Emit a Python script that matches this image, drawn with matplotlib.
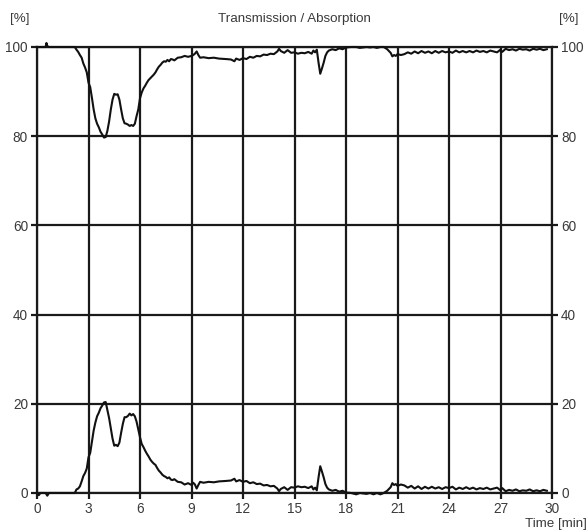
import matplotlib
matplotlib.use("Agg")
import matplotlib.pyplot as plt

plt.rcParams['font.family'] = ['Liberation Sans', 'DejaVu Sans']

time = [
    0.0, 0.1, 0.2, 0.5, 0.55, 0.6, 0.7, 2.2, 2.3, 2.4,
    2.5, 2.6, 2.7, 2.8, 2.9, 3.0, 3.1, 3.2, 3.3, 3.4,
    3.5, 3.6, 3.7, 3.8, 3.9, 4.0, 4.1, 4.2, 4.3, 4.4,
    4.5, 4.6, 4.7, 4.8, 4.9, 5.0, 5.1, 5.2, 5.3, 5.4,
    5.5, 5.6, 5.7, 5.8, 5.9, 6.0, 6.1, 6.2, 6.3, 6.4,
    6.5, 6.6, 6.7, 6.8, 6.9, 7.0, 7.1, 7.2, 7.3, 7.4,
    7.5, 7.6, 7.7, 7.8, 7.9, 8.0, 8.2, 8.4, 8.6, 8.8,
    9.0, 9.1, 9.2, 9.3, 9.4, 9.5, 9.7, 10.0, 10.3, 10.6,
    11.0, 11.3, 11.5, 11.6, 11.8, 12.0, 12.2, 12.4, 12.6, 12.8,
    13.0, 13.2, 13.4, 13.6, 13.8, 14.0, 14.1, 14.2, 14.4, 14.6,
    14.8, 15.0, 15.2, 15.4, 15.6, 15.8, 16.0, 16.1, 16.2, 16.3,
    16.4, 16.5, 16.6, 16.7, 16.8, 16.9, 17.0, 17.2, 17.4, 17.6,
    17.8, 18.0, 18.3, 18.6, 18.8, 19.2, 19.4, 19.6, 19.8, 20.0,
    20.2, 20.4, 20.6, 20.7, 20.8, 20.9, 21.0, 21.2, 21.4, 21.6,
    21.8, 22.0, 22.2, 22.4, 22.6, 22.8, 23.0, 23.2, 23.4, 23.6,
    23.8, 24.0, 24.2, 24.4, 24.6, 24.8, 25.0, 25.2, 25.4, 25.6,
    25.8, 26.0, 26.2, 26.4, 26.6, 26.8, 27.0, 27.1, 27.3, 27.5,
    27.7, 27.9, 28.1, 28.3, 28.5, 28.7, 28.9, 29.1, 29.3, 29.5, 29.7,
]

absorption = [
    0.0, -0.5, 0.0, 0.0, -0.3, -0.6, 0.0, 0.0, 0.8, 1.0,
    1.5, 2.6, 3.8, 4.5, 5.5, 8.0, 9.0, 11.5, 14.0, 15.8,
    17.2, 18.0, 19.0, 19.6, 20.3, 20.4, 18.6, 16.8, 14.5, 12.2,
    10.6, 10.8, 10.5, 11.3, 13.5, 15.5, 17.0, 17.0, 17.3, 17.8,
    17.4, 17.7, 17.2, 16.0, 14.2, 12.5, 11.0, 10.3, 9.5, 8.8,
    8.2, 7.5, 7.0, 6.6, 6.3, 5.6, 5.0, 4.6, 4.1, 3.8,
    3.6, 3.3, 3.5, 3.0, 2.9, 3.1, 2.5, 2.4, 1.9, 2.2,
    1.8, 2.3, 1.9, 1.0, 1.8, 2.5, 2.3, 2.5, 2.4, 2.6,
    2.7, 2.8, 3.2, 2.6, 2.9, 2.5, 2.7, 2.2, 2.4, 2.0,
    2.1, 1.7, 1.8, 1.5, 1.6, 1.0, 0.4, 0.9, 1.3, 0.7,
    1.3, 1.2, 1.5, 1.3, 1.4, 1.1, 1.5, 0.8, 1.2, 0.6,
    3.5, 6.0, 4.8, 3.5, 2.0, 1.2, 0.8, 0.5, 0.7, 0.3,
    0.5, 0.1, 0.0, -0.3, 0.0, -0.2, 0.0, -0.3, 0.0, -0.3,
    0.0, 0.5, 1.3, 2.2, 1.8, 2.0, 1.6, 1.9, 1.7, 1.2,
    1.6, 1.0, 1.5, 0.9, 1.4, 1.0, 1.4, 1.0, 1.3, 0.9,
    1.3, 1.1, 1.4, 0.8, 1.2, 0.9, 1.3, 0.9, 1.2, 0.8,
    1.1, 0.9, 1.2, 0.8, 1.0, 1.2, 0.6, 1.1, 0.4, 0.7,
    0.5, 0.8, 0.4, 0.6, 0.5, 0.8, 0.4, 0.6, 0.4, 0.7, 0.5,
]

transmission = [
    100.0, 100.0, 100.0, 100.0, 100.9, 100.2, 100.0, 100.0, 99.4, 98.9,
    98.2, 97.6, 96.3, 95.4, 94.3, 92.0, 91.0, 88.6, 86.0, 84.0,
    82.8, 82.0, 81.0, 80.4, 79.7, 79.8, 81.2, 83.3, 86.0, 88.2,
    89.5, 89.3, 89.4, 88.2, 86.0, 84.0, 82.9, 82.8, 82.6, 82.3,
    82.5, 82.3, 82.8, 84.5, 86.0, 88.5, 89.8, 90.7, 91.3, 92.0,
    92.6, 93.0, 93.4, 93.8, 94.3, 95.0, 95.6, 96.0, 96.5, 96.8,
    96.7, 97.1, 96.8, 97.3, 97.2, 97.0, 97.6, 97.7, 98.0, 97.8,
    98.0, 98.2, 98.5, 99.0, 98.2, 97.6, 97.7, 97.5, 97.6, 97.4,
    97.3, 97.2, 96.8, 97.4, 97.1, 97.5, 97.3, 97.8, 97.6, 98.0,
    97.9, 98.3, 98.2, 98.5, 98.4, 99.0, 99.6, 99.1, 98.7, 99.3,
    98.7, 98.8, 98.5, 98.7, 98.6, 98.9, 98.5, 99.2, 98.8, 99.4,
    96.5, 94.0, 95.2, 96.5, 98.0, 98.8, 99.2, 99.5, 99.3, 99.7,
    99.5, 99.9, 100.0, 100.0, 99.8, 100.0, 99.9, 100.0, 99.8, 100.0,
    100.0, 99.5, 98.7, 97.9, 98.2, 98.0, 98.4, 98.2, 98.4, 98.8,
    98.5, 99.0, 98.6, 99.1, 98.7, 99.0, 98.6, 99.1, 98.7, 99.1,
    98.8, 99.0, 98.7, 99.2, 98.8, 99.1, 98.8, 99.1, 98.8, 99.2,
    98.9, 99.1, 98.8, 99.2, 99.0, 98.8, 99.4, 98.9, 99.6, 99.3,
    99.5, 99.2, 99.6, 99.4, 99.5, 99.2, 99.6, 99.4, 99.6, 99.3, 99.5,
]

x_ticks = list(range(0, 31, 3))
y_ticks = list(range(0, 101, 20))

title = "Transmission / Absorption"
unit_label = "[%]"
x_label = "Time [min]"

W, H = 588, 531
fig = plt.figure(figsize=(W / 100, H / 100), dpi=100)
left, right, top, bottom = 37, 552, 47, 493
ax = fig.add_axes([left / W, 1 - bottom / H, (right - left) / W, (bottom - top) / H])

ax.set_xlim(0, 30)
ax.set_ylim(0, 100)
ax.set_xticks(x_ticks)
ax.set_yticks(y_ticks)
ax.grid(True, color='#1a1a1a', lw=1.6)
ax.set_axisbelow(True)
for s in ax.spines.values():
    s.set_color('#1a1a1a')
    s.set_linewidth(1.6)
ax.tick_params(direction='out', length=4, width=1.6, colors='#1a1a1a',
               labelcolor='#3a3a3a', labelsize=9.8, pad=2.5,
               right=True, labelright=True)

ax.plot(time, transmission, color='#111111', lw=1.5, clip_on=False, zorder=3)
ax.plot(time, absorption, color='#111111', lw=1.5, clip_on=False, zorder=3)

fs = 9.6
fig.text(20 / W, 1 - 19 / H, unit_label, ha='center', va='center', fontsize=fs, color='#3a3a3a')
fig.text(294 / W, 1 - 19 / H, title, ha='center', va='center', fontsize=fs, color='#3a3a3a')
fig.text(569 / W, 1 - 19 / H, unit_label, ha='center', va='center', fontsize=fs, color='#3a3a3a')
fig.text(587 / W, 1 - 524 / H, x_label, ha='right', va='center', fontsize=fs, color='#3a3a3a')

fig.savefig("out.png", dpi=100)
